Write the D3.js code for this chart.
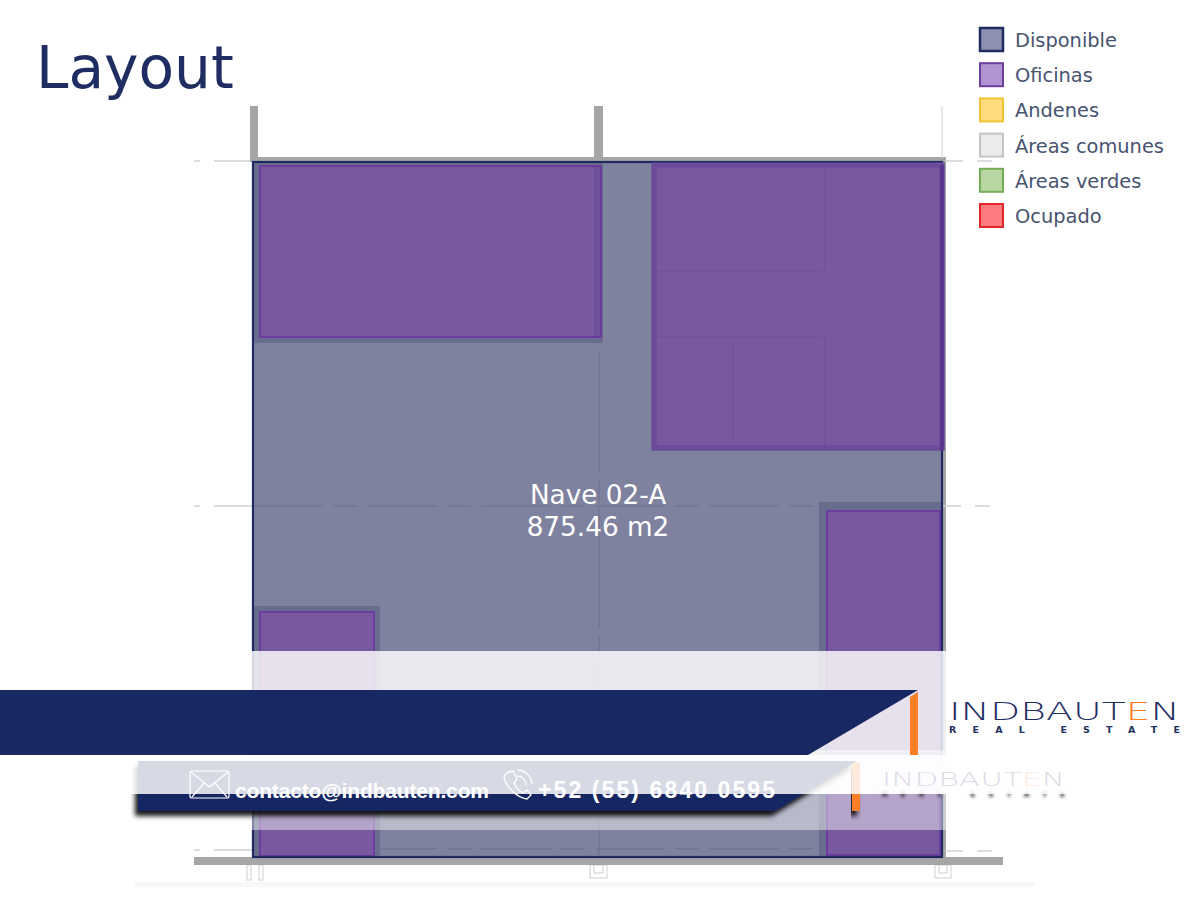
<!DOCTYPE html>
<html>
<head>
<meta charset="utf-8">
<script src="https://cdn.jsdelivr.net/npm/d3@7"></script>
<style>
    html, body { margin: 0; padding: 0; background: #fff; overflow: hidden; }
    text { font-family: "DejaVu Sans", sans-serif; }
    .contact { font-family: "Liberation Sans", Arial, sans-serif; font-weight: bold; fill: #fff; }
</style>
</head>
<body>
<svg id="layout" width="1200" height="900"></svg>
<script>
const legendLabels = ["Disponible", "Oficinas", "Andenes", "Áreas comunes", "Áreas verdes", "Ocupado"];

// Plan values: [x0, y0, x1, y1]
const building = [0, 0, 689, 695];
const offices = [[7, 4, 348, 175], [401, 3, 689, 286], [574, 349, 687, 693], [7, 450, 121, 694]];
const officeMargins = [[0, 0, 350, 181], [566, 340, 688, 695], [0, 444, 127, 695]];
const walls = [[-3, -56, 5, -2], [341, -56, 350, -2], [-3, -5, 693, 0], [688, -5, 693, 698], [-59, 695, 750, 703]];
const wallShades = [[341, 4, 348, 175], [687, 3, 691, 288]];
const partitionsH = [[404, 109, 569], [404, 175, 569]];
const partitionsV = [[572, 1, 108], [572, 174, 283], [480, 178, 281]];
const outerLinesH = [[-59, -1, -3], [-59, 344, 0], [-59, 688, 0]];
const outerLinesRight = [[692, -1, 739], [690, 344, 739], [692, 689, 739]];
const innerLinesH = [[0, 344, 566], [0, 687, 566]];
const axisLinesV = [[346, 190, 696], [689, -56, -4]];
const footings = [[337, 703, 354, 716], [341, 703, 350, 711], [682, 703, 698, 716], [686, 703, 694, 711], [-6, 703, -2, 718], [6, 703, 10, 718]];

const naveLabels = ["Nave 02-A", "875.46 m2"];
const contactMail = "contacto@indbauten.com";
const contactPhone = "+52 (55) 6840 0595";
const logoParts = ["INDBAUT", "E", "N"];
const logoSub = "REAL ESTATE";

const svg = d3.select("#layout");
const x = d3.scaleLinear().domain([0, 690]).range([253, 943]);
const y = d3.scaleLinear().domain([0, 696]).range([162, 858]);
const legendY = d3.scalePoint().domain(legendLabels).range([40, 216]);
const legendFill = d3.scaleOrdinal().domain(legendLabels)
    .range(["#8d91b1", "#b094d2", "#ffdc7e", "#ebebeb", "#b8d5a2", "#ff7b7f"]);
const legendStroke = d3.scaleOrdinal().domain(legendLabels)
    .range(["#1f2d63", "#6c3f9c", "#f3c233", "#c4c4c4", "#74ad55", "#e0262b"]);

const NAVY = "#182862";
const ORANGE = "#ff7f27";

const defs = svg.append("defs");
defs.append("filter").attr("id", "shadow")
    .attr("x", "-5%").attr("y", "-30%").attr("width", "110%").attr("height", "170%")
    .append("feDropShadow")
    .attr("dx", -3).attr("dy", 5).attr("stdDeviation", 2.5).attr("flood-color", "#000").attr("flood-opacity", 0.9);
defs.append("filter").attr("id", "ghost").append("feGaussianBlur").attr("stdDeviation", 1.6);

function addRects(parent, rows) {
    return parent.append("g").selectAll("rect")
        .data(rows)
        .enter()
        .append("rect")
        .attr("x", d => x(d[0]))
        .attr("y", d => y(d[1]))
        .attr("width", d => x(d[2]) - x(d[0]))
        .attr("height", d => y(d[3]) - y(d[1]));
}

function addLinesH(parent, rows) {
    return parent.append("g").selectAll("line")
        .data(rows)
        .enter()
        .append("line")
        .attr("x1", d => x(d[0])).attr("x2", d => x(d[2]))
        .attr("y1", d => y(d[1])).attr("y2", d => y(d[1]));
}

function addLinesV(parent, rows) {
    return parent.append("g").selectAll("line")
        .data(rows)
        .enter()
        .append("line")
        .attr("x1", d => x(d[0])).attr("x2", d => x(d[0]))
        .attr("y1", d => y(d[1])).attr("y2", d => y(d[2]));
}

function drawPlan() {
    const plan = svg.append("g");

    svg.append("rect").attr("x", 135).attr("y", 882).attr("width", 900).attr("height", 5).attr("fill", "#f8f8f8");

    addRects(plan, footings).attr("fill", "#fff").attr("stroke", "#dadada").attr("stroke-width", 1.3);
    addRects(plan, walls).attr("fill", "#a6a6a6");

    addRects(plan, [building]).attr("fill", "#7f829f");

    addLinesH(plan, outerLinesH).attr("stroke", "#d2d2d2").attr("stroke-width", 1.5).attr("stroke-dasharray", "6 14 60");
    addLinesH(plan, outerLinesRight).attr("stroke", "#d2d2d2").attr("stroke-width", 1.5).attr("stroke-dasharray", "18 14 15");
    addLinesH(plan, innerLinesH).attr("stroke", "#73768f").attr("stroke-width", 1.3).attr("stroke-dasharray", "70 10 24 10");
    addLinesV(plan, axisLinesV)
        .attr("stroke", (d, i) => i ? "#d2d2d2" : "#6c6f8c")
        .attr("stroke-width", 1)
        .attr("stroke-dasharray", (d, i) => i ? null : "120 8 20 8");

    addRects(plan, officeMargins).attr("fill", "#696d8d");
    addRects(plan, offices)
        .attr("fill", "#78599f")
        .attr("stroke", (d, i) => i === 1 ? "#6c4b9b" : "#6c3c9e")
        .attr("stroke-width", (d, i) => i === 1 ? 5 : 2);

    addLinesH(plan, partitionsH).attr("stroke", "#71529b").attr("stroke-width", 1.5);
    addLinesV(plan, partitionsV).attr("stroke", "#71529b").attr("stroke-width", 1.5);

    addRects(plan, [building]).attr("fill", "none").attr("stroke", "#1f2a63").attr("stroke-width", 2.2);
    addRects(plan, [offices[1]]).attr("fill", "none").attr("stroke", "#6c4b9b").attr("stroke-width", 5);
    addRects(plan, wallShades).attr("fill", "#4f2f8c").attr("fill-opacity", (d, i) => i ? 0.7 : 0.22);

    svg.append("g").selectAll("text")
        .data(naveLabels)
        .enter()
        .append("text")
        .attr("x", x(345))
        .attr("y", (d, i) => 504 + i * 32)
        .attr("text-anchor", "middle")
        .attr("font-size", 26.3)
        .attr("fill", "#fff")
        .text(d => d);
}

function drawLegend() {
    const rows = svg.append("g").selectAll("g")
        .data(legendLabels)
        .enter()
        .append("g")
        .attr("transform", d => `translate(0,${legendY(d)})`);
    rows.append("rect")
        .attr("x", 980).attr("y", -12)
        .attr("width", 23).attr("height", 23)
        .attr("fill", d => legendFill(d))
        .attr("stroke", d => legendStroke(d))
        .attr("stroke-width", (d, i) => i ? 2 : 2.5);
    rows.append("text")
        .attr("x", 1015).attr("y", 7)
        .attr("font-size", 19.4)
        .attr("fill", "#475370")
        .text(d => d);
}

function drawLogo(g, left, top, width, subSize) {
    const logo = g.append("text")
        .attr("x", left).attr("y", top)
        .attr("font-family", "Lato, 'Open Sans', sans-serif")
        .attr("font-weight", 300)
        .attr("font-size", width * 0.105)
        .attr("textLength", width)
        .attr("lengthAdjust", "spacingAndGlyphs")
        .attr("fill", "#1f2d63");
    logo.selectAll("tspan")
        .data(logoParts)
        .enter()
        .append("tspan")
        .attr("fill", (d, i) => i === 1 ? ORANGE : null)
        .text(d => d);
    return g.append("text")
        .attr("x", left).attr("y", top + width * 0.058)
        .attr("font-family", "'Liberation Sans', sans-serif")
        .attr("font-weight", "bold")
        .attr("font-size", subSize)
        .attr("textLength", width)
        .attr("fill", "#24325f")
        .text(logoSub);
}

function drawBanner() {
    const line = d3.line();

    // upper glass strips over the plan
    svg.append("rect").attr("x", 250).attr("y", 651).attr("width", 697).attr("height", 143)
        .attr("fill", "#fff").attr("fill-opacity", 0.82);
    svg.append("rect").attr("x", 250).attr("y", 750).attr("width", 697).attr("height", 80)
        .attr("fill", "#fff").attr("fill-opacity", 0.45);

    // reflected banner
    svg.append("path")
        .attr("d", line([[138, 761], [857, 761], [775, 811], [138, 811]]) + "Z")
        .attr("fill", NAVY)
        .attr("filter", "url(#shadow)");
    svg.append("rect").attr("x", 852).attr("y", 763).attr("width", 8).attr("height", 48)
        .attr("fill", ORANGE)
        .attr("filter", "url(#shadow)");

    const ghost = svg.append("g");
    drawLogo(ghost, 882, 786, 183, 7.5).attr("filter", "url(#ghost)").attr("fill", "#222");

    svg.append("rect").attr("x", 100).attr("y", 755).attr("width", 1000).attr("height", 39)
        .attr("fill", "#fff").attr("fill-opacity", 0.83);

    // main banner
    svg.append("path")
        .attr("d", line([[0, 690], [918, 690], [808, 755], [0, 755]]) + "Z")
        .attr("fill", NAVY);
    svg.append("path")
        .attr("d", line([[910, 697], [918, 692], [918, 755], [910, 755]]) + "Z")
        .attr("fill", ORANGE);

    drawLogo(svg.append("g"), 949, 720, 231, 9.5);

    // contact line
    const mail = svg.append("g").attr("fill", "none").attr("stroke", "#fff").attr("stroke-width", 1.2);
    mail.append("rect").attr("x", 190).attr("y", 771).attr("width", 39).attr("height", 27).attr("rx", 2);
    mail.append("path").attr("d", "M191,772 L209.5,787 L228,772 M192,797 L204,783 M227,797 L215,783");

    const phone = svg.append("g").attr("fill", "none").attr("stroke", "#fff").attr("stroke-width", 1.3);
    phone.append("path").attr("d", "M508,772 L513,771 L517,779 L514,783 C516,788 519,791 523,793 L527,790 L531,795 L527,799 C517,798 504,785 504,776 Z");
    phone.append("path").attr("d", "M517,776 C522,776 526,780 526,785 M518,770 C525,770 532,777 532,784");

    svg.append("text").attr("class", "contact")
        .attr("x", 235).attr("y", 798)
        .attr("font-size", 21)
        .attr("textLength", 254)
        .text(contactMail);
    svg.append("text").attr("class", "contact")
        .attr("x", 538).attr("y", 798)
        .attr("font-size", 23)
        .attr("textLength", 237)
        .text(contactPhone);
}

svg.append("text")
    .attr("x", 36).attr("y", 88)
    .attr("font-size", 58.2)
    .attr("fill", "#1f2d62")
    .text("Layout");

drawPlan();
drawLegend();
drawBanner();
</script>
</body>
</html>
